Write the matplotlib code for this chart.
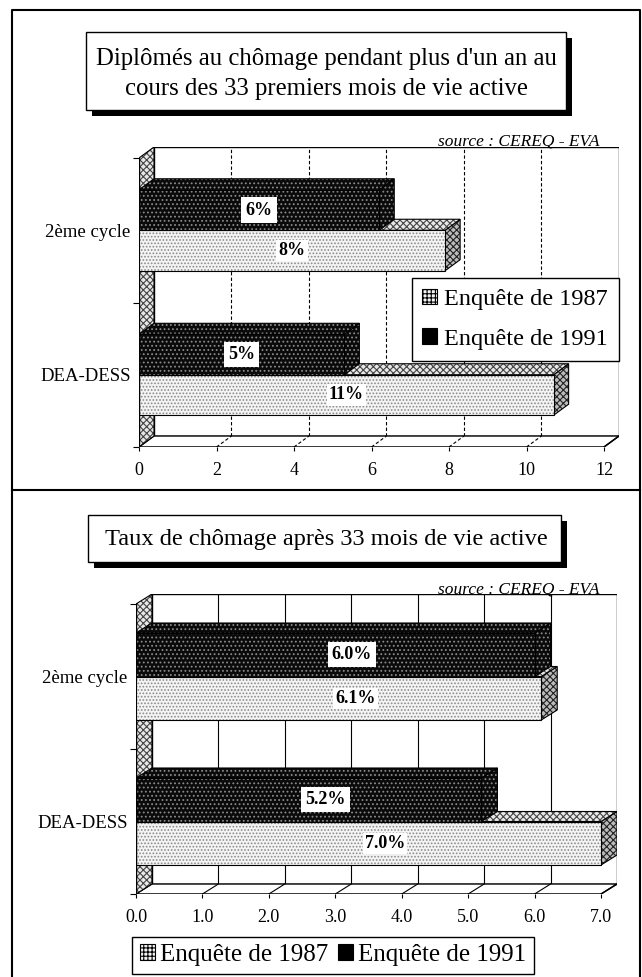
import numpy as np
import matplotlib
matplotlib.use("Agg")
from matplotlib import pyplot as plt
from matplotlib.patches import Polygon, Rectangle, Patch

plt.rcParams['font.family'] = ['Liberation Serif', 'DejaVu Serif']
plt.rcParams['hatch.linewidth'] = 0.8

# data
categories = ['DEA-DESS', '2ème cycle']
series_names = ['Enquête de 1987', 'Enquête de 1991']

top_1987 = [10.7, 7.9]
top_1991 = [5.3, 6.2]
top_lab_1987 = ['11%', '8%']
top_lab_1991 = ['5%', '6%']
top_ticks = [0, 2, 4, 6, 8, 10, 12]
top_ticklabels = ['0', '2', '4', '6', '8', '10', '12']

bot_1987 = [7.0, 6.1]
bot_1991 = [5.2, 6.0]
bot_lab_1987 = ['7.0%', '6.1%']
bot_lab_1991 = ['5.2%', '6.0%']
bot_ticks = [0, 1, 2, 3, 4, 5, 6, 7]
bot_ticklabels = ['0.0', '1.0', '2.0', '3.0', '4.0', '5.0', '6.0', '7.0']

W, H = 642, 977
fig = plt.figure(figsize=(W / 100, H / 100), dpi=100)

# styles
light = dict(fc='#f4f4f4', hc='#8a8a8a', hatch='.....')
dark = dict(fc='#0a0a0a', hc='#8a8a8a', hatch='....')
face3d = dict(fc='#e8e8e8', hc='#444444', hatch='xxxxx')
side3d = dict(fc='#bbbbbb', hc='#222222', hatch='xxxxx')


def poly(ax, pts, st, z=2):
    ax.add_patch(Polygon(pts, closed=True, facecolor=st['fc'], edgecolor=st['hc'],
                         hatch=st['hatch'], lw=0, zorder=z))
    ax.add_patch(Polygon(pts, closed=True, fill=False, edgecolor='black', lw=0.8, zorder=z))


def bar3d(ax, y0, h, v, dx, dy, st, z):
    # side, top, then front face
    top = st if st is dark else face3d
    side = st if st is dark else side3d
    poly(ax, [(v, y0), (v + dx, y0 + dy), (v + dx, y0 + h + dy), (v, y0 + h)], side, z)
    poly(ax, [(0, y0 + h), (v, y0 + h), (v + dx, y0 + h + dy), (dx, y0 + h + dy)], top, z)
    poly(ax, [(0, y0), (v, y0), (v, y0 + h), (0, y0 + h)], st, z)


def panel(rect_px, xmax, dx, dy, v87, v91, lab87, lab91, ticks, ticklabels, grid_ls, lab_off, h):
    l, t, r, b = rect_px
    ax = fig.add_axes([l / W, 1 - b / H, (r - l) / W, (b - t) / H])
    ax.set_xlim(0, xmax + dx)
    ax.set_ylim(0, 2 + dy)
    for s in ax.spines.values():
        s.set_visible(False)
    # back wall, floor, left wall
    ax.add_patch(Rectangle((dx, dy), xmax, 2, facecolor='white', edgecolor='black', lw=1.0, zorder=0))
    ax.add_patch(Polygon([(0, 0), (xmax, 0), (xmax + dx, dy), (dx, dy)], facecolor='white',
                         edgecolor='black', lw=1.0, zorder=1))
    poly(ax, [(0, 0), (dx, dy), (dx, 2 + dy), (0, 2)], face3d, 1)
    for tv in ticks[1:-1]:
        ax.plot([tv + dx, tv + dx], [dy, 2 + dy], color='black', lw=0.8, ls=grid_ls, zorder=0.5)
        ax.plot([tv, tv + dx], [0, dy], color='black', lw=0.8, ls=grid_ls, zorder=1.5)
    ax.plot([xmax, xmax + dx], [0, dy], color='black', lw=1.0, zorder=1.5)
    ax.plot([0, 0], [0, 2], color='black', lw=1.0, zorder=3)
    ax.plot([0, xmax], [0, 0], color='black', lw=1.0, zorder=3)

    for i in range(len(categories)):
        c = i + 0.5
        bar3d(ax, c - h, h, v87[i], dx, dy, light, 2 + i)
        bar3d(ax, c, h, v91[i], dx, dy, dark, 2.5 + i)
        ax.text(v87[i] / 2 + lab_off, c - h / 2, lab87[i], ha='center', va='center',
                fontsize=13, fontweight='bold', zorder=6,
                bbox=dict(fc='white', ec='none', pad=1.5))
        ax.text(v91[i] / 2 + lab_off, c + h / 2, lab91[i], ha='center', va='center',
                fontsize=13, fontweight='bold', zorder=6,
                bbox=dict(fc='white', ec='none', pad=3))

    ax.set_xticks(ticks)
    ax.set_xticklabels(ticklabels, fontsize=13)
    ax.tick_params(axis='x', length=3, width=0.8, pad=8)
    ax.set_yticks([0.5, 1.5])
    ax.set_yticklabels(categories, fontsize=13.5)
    ax.tick_params(axis='y', length=0, pad=6)
    ax.set_yticks([0, 1, 2], minor=True)
    ax.tick_params(axis='y', which='minor', length=4, width=0.8)
    return ax


# top panel
ax1 = panel((139, 147, 619, 447), 12, 15 / 38.8, 11 / 144.5, top_1987, top_1991,
            top_lab_1987, top_lab_1991, top_ticks, top_ticklabels, (0, (3, 2)), 0.0, 0.28)
# bottom panel
ax2 = panel((136, 594, 617, 894), 7, 16 / 66.6, 10 / 145.0, bot_1987, bot_1991,
            bot_lab_1987, bot_lab_1991, bot_ticks, bot_ticklabels, '-', 0.25, 0.30)

# frame, title boxes in pixel space
ov = fig.add_axes([0, 0, 1, 1], zorder=-1)
ov.set_xlim(0, W)
ov.set_ylim(H, 0)
ov.axis('off')
ov.plot([12, 12, 640, 640], [H + 5, 10, 10, H + 5], color='black', lw=1.5)
ov.plot([12, 640], [490, 490], color='black', lw=1.5)

ov2 = fig.add_axes([0, 0, 1, 1], zorder=5)
ov2.set_xlim(0, W)
ov2.set_ylim(H, 0)
ov2.axis('off')
ov2.patch.set_alpha(0)
for (x0, y0, x1, y1) in [(86, 32, 566, 110), (88, 515, 561, 562)]:
    ov2.add_patch(Rectangle((x0 + 6, y0 + 6), x1 - x0, y1 - y0, facecolor='black', lw=0))
    ov2.add_patch(Rectangle((x0, y0), x1 - x0, y1 - y0, facecolor='white', edgecolor='black', lw=1.0))
ov2.text(326, 74, "Diplômés au chômage pendant plus d'un an au\ncours des 33 premiers mois de vie active",
         ha='center', va='center', fontsize=17.8, linespacing=1.5)
ov2.text(326, 540, "Taux de chômage après 33 mois de vie active",
         ha='center', va='center', fontsize=17.6)

fig.text(600 / W, 1 - 149 / H, 'source : CEREQ - EVA', ha='right', va='bottom',
         fontsize=12.5, style='italic')
fig.text(600 / W, 1 - 598 / H, 'source : CEREQ - EVA', ha='right', va='bottom',
         fontsize=12.5, style='italic')

handles = [Patch(facecolor=light['fc'], edgecolor='black', hatch='++++', lw=0.8),
           Patch(facecolor='black', edgecolor='black', lw=0.8)]
leg1 = fig.legend(handles, series_names, loc='upper right',
                  bbox_to_anchor=(619 / W, 1 - 278 / H), fontsize=17.5, frameon=True,
                  fancybox=False, edgecolor='black', framealpha=1, handlelength=0.6,
                  handleheight=0.6, handletextpad=0.3, borderpad=0.45, labelspacing=0.75,
                  borderaxespad=0)
leg1.get_frame().set_linewidth(1.0)
leg1.set_zorder(10)
leg2 = fig.legend(handles, series_names, loc='center', ncol=2,
                  bbox_to_anchor=(333 / W, 1 - 955 / H), fontsize=18, frameon=True,
                  fancybox=False, edgecolor='black', framealpha=1, handlelength=0.6,
                  handleheight=0.6, handletextpad=0.2, borderpad=0.3, columnspacing=0.4,
                  borderaxespad=0)
leg2.get_frame().set_linewidth(1.0)

fig.savefig('out.png', dpi=100)
